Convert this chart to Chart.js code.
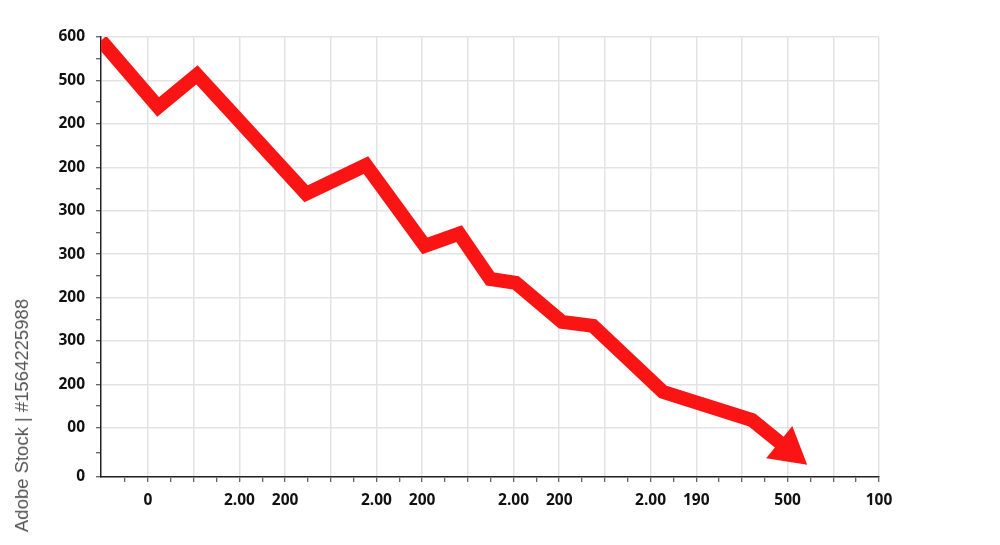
<!DOCTYPE html>
<html>
<head>
<meta charset="utf-8">
<script src="https://cdn.jsdelivr.net/npm/chart.js@4"></script>
<style>
  html, body { margin: 0; padding: 0; background: #fff; }
  #wrap { position: relative; width: 1000px; height: 545px; }
  #stamp {
    position: absolute; left: 11px; top: 299px;
    writing-mode: vertical-rl; transform: rotate(180deg);
    font-family: "Liberation Sans", Arial, sans-serif; font-size: 18.5px; color: #555;
    white-space: nowrap;
  }
</style>
</head>
<body>
<div id="wrap">
  <canvas id="chart" width="1000" height="545"></canvas>
  <div id="stamp">Adobe Stock | #1564225988</div>
</div>
<script>
// данные графика
const pointX = [-1.03, 0.22, 1.07, 3.46, 4.77, 6.06, 6.81, 7.49, 8.05, 9.06, 9.74, 11.27, 13.22, 14.02];
const pointY = [10.05, 8.52, 9.26, 6.52, 7.18, 5.32, 5.60, 4.56, 4.47, 3.57, 3.48, 1.96, 1.31, 0.63];

const yTickValues = [0, 1.13, 2.13, 3.13, 4.13, 5.13, 6.13, 7.13, 8.13, 9.13, 10.13];
const yTickLabels = ["0", "00", "200", "300", "200", "300", "300", "200", "200", "500", "600"];

const xGridValues = [0, 1, 2, 3, 4, 5, 6, 7, 8, 9, 10, 11, 12, 13, 14, 15, 16];
const xLabelValues = [0, 2, 3, 5, 6, 8, 9, 11, 12, 14, 16];
const xLabelTexts = ["0", "2.00", "200", "2.00", "200", "2.00", "200", "2.00", "190", "500", "100"];

const RED = "#fa1414";
const GRID = "#e3e3e3";
const lastIdx = pointX.length - 1;

// минорные деления посередине
const yAll = [];
yTickValues.forEach((v, i) => {
    yAll.push({ value: v, major: true });
    if (i < yTickValues.length - 1) yAll.push({ value: (v + yTickValues[i + 1]) / 2, major: false });
});
const xAll = [{ value: -0.5, major: false }];
xGridValues.forEach((v, i) => {
    xAll.push({ value: v, major: true });
    if (i < xGridValues.length - 1) xAll.push({ value: v + 0.5, major: false });
});

const tickFont = { family: "'Open Sans', sans-serif", size: 15.5, weight: "bold" };

new Chart(document.getElementById("chart").getContext("2d"), {
    type: "line",
    data: {
        datasets: [{
            data: pointX.map((x, i) => ({ x, y: pointY[i] })),
            borderColor: RED,
            backgroundColor: RED,
            borderWidth: 14,
            borderJoinStyle: "miter",
            fill: false,
            tension: 0,
            clip: 0,
            pointStyle: "triangle",
            pointRadius: ctx => ctx.dataIndex === lastIdx ? 24 : 0,
            pointRotation: ctx => ctx.dataIndex === lastIdx ? 129 : 0,
            pointBorderWidth: 0,
            pointHoverRadius: 0
        }]
    },
    options: {
        responsive: false,
        animation: false,
        layout: { padding: { top: 37, right: 121, left: 0, bottom: 0 } },
        plugins: { legend: { display: false }, tooltip: { enabled: false } },
        scales: {
            x: {
                type: "linear",
                min: -1.03,
                max: 16,
                afterBuildTicks: s => { s.ticks = xAll.map(t => ({ value: t.value, major: t.major })); },
                afterFit: s => { s.height = 68; },
                ticks: {
                    autoSkip: false,
                    maxRotation: 0,
                    padding: 9,
                    color: "#111",
                    font: tickFont,
                    callback: v => {
                        const k = xLabelValues.indexOf(v);
                        return k >= 0 ? xLabelTexts[k] : "";
                    }
                },
                grid: {
                    color: ctx => (ctx.tick && ctx.tick.major) ? GRID : "rgba(0,0,0,0)",
                    lineWidth: 1.5,
                    tickColor: "#333",
                    tickLength: 5,
                    tickWidth: 1
                },
                border: { color: "#222", width: 1.5 }
            },
            y: {
                type: "linear",
                min: 0,
                max: 10.13,
                afterBuildTicks: s => { s.ticks = yAll.map(t => ({ value: t.value, major: t.major })); },
                afterFit: s => { s.width = 101; },
                ticks: {
                    autoSkip: false,
                    padding: 11,
                    color: "#111",
                    font: tickFont,
                    callback: v => {
                        const k = yTickValues.indexOf(v);
                        return k >= 0 ? yTickLabels[k] : "";
                    }
                },
                grid: {
                    color: ctx => (ctx.tick && ctx.tick.major) ? GRID : "rgba(0,0,0,0)",
                    lineWidth: 1.5,
                    tickColor: "#333",
                    tickLength: 5,
                    tickWidth: 1
                },
                border: { color: "#222", width: 1.5 }
            }
        }
    }
});
</script>
</body>
</html>
